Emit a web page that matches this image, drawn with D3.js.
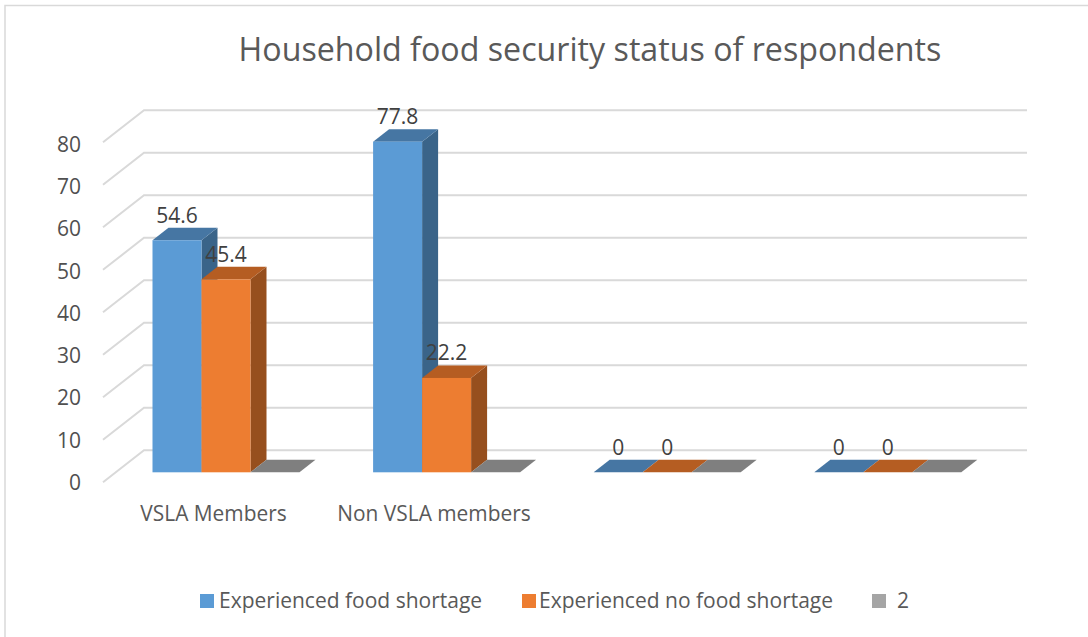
<!DOCTYPE html>
<html><head><meta charset="utf-8">
<script src="https://cdn.jsdelivr.net/npm/d3@7"></script>
<style>html,body{margin:0;padding:0;background:#fff}svg{display:block}text{font-family:"Open Sans",sans-serif}</style>
</head><body><svg id="c" width="1088" height="637"></svg>
<script>
const title = "Household food security status of respondents";
const categories = ["VSLA Members", "Non VSLA members", " ", "  "];
const seriesNames = ["Experienced food shortage", "Experienced no food shortage", "2"];
const shortage = [54.6, 77.8, 0, 0];
const noShortage = [45.4, 22.2, 0, 0];
const third = [null, null, null, null];
const yTicks = [0, 10, 20, 30, 40, 50, 60, 70, 80];
const frontColors = ["#5b9bd5", "#ed7d31", "#a5a5a5"];
const topColors = ["#4676a3", "#b55d22", "#7f7f7f"];
const sideColors = ["#3a6489", "#964f1e", "#6e6e6e"];
const depth = {x: 16, y: 12.5};

const svg = d3.select("#c");
svg.append("path").attr("d","M5,637V5.5H1088").attr("fill","none").attr("stroke","#d9d9d9").attr("stroke-width",1.5);
svg.append("text").attr("x",590).attr("y",60.5).attr("text-anchor","middle").attr("font-size",32.2).attr("fill","#595959").text(title);

const y = d3.scaleLinear().domain([0,80]).range([472.3,132.3]);
const tickY = d3.scaleLinear().domain([0,80]).range([490,151.7]);
const x0 = d3.scaleBand().domain(categories).range([121,1003.4]);
const x1 = d3.scaleBand().domain(d3.range(3)).range([31.5,178.5]);

const wallDx = 41, wallLeft = 103, wallRight = 1027;
const g = svg.append("g");
yTicks.forEach(t=>{
  const yf = y(t)+10, yb = yf-32;
  g.append("path").attr("d",d3.line()([[wallLeft,yf],[wallLeft+wallDx,yb],[wallRight,yb]]))
    .attr("fill","none").attr("stroke","#d9d9d9").attr("stroke-width",2);
  svg.append("text").attr("x",81).attr("y",tickY(t)).attr("text-anchor","end").attr("font-size",21).attr("fill","#505050").text(t);
});

const series = [shortage, noShortage, third];
const bars = svg.append("g");
categories.forEach((c,ci)=>{
  series.forEach((vals,si)=>{
    const v = vals[ci] === null ? 0 : vals[ci];
    const xl = x0(c)+x1(si), xr = xl+x1.bandwidth(), yt = y(v), yb = y(0);
    const dx = depth.x, dy = depth.y;
    if(v>0) bars.append("path").attr("d",`M${xr},${yt}L${xr+dx},${yt-dy}L${xr+dx},${yb-dy}L${xr},${yb}Z`).attr("fill",sideColors[si]);
    bars.append("path").attr("d",`M${xl},${yt}L${xl+dx},${yt-dy}L${xr+dx},${yt-dy}L${xr},${yt}Z`).attr("fill",topColors[si]);
    if(v>0) bars.append("rect").attr("x",xl).attr("y",yt).attr("width",xr-xl).attr("height",yb-yt).attr("fill",frontColors[si]);
  });
});
categories.forEach((c,ci)=>{
  series.forEach((vals,si)=>{
    if(vals[ci]===null) return;
    svg.append("text").attr("x",x0(c)+x1(si)+x1.bandwidth()/2).attr("y",y(vals[ci])-17.5)
      .attr("text-anchor","middle").attr("font-size",21).attr("fill","#404040").text(vals[ci]);
  });
});
categories.slice(0,2).forEach((c,i)=>{
  svg.append("text").attr("x",[213.5,434][i]).attr("y",521).attr("text-anchor","middle").attr("font-size",20.9).attr("fill","#595959").text(c);
});
const lx = [200,522,872], tx=[219,539,897];
seriesNames.forEach((n,i)=>{
  svg.append("rect").attr("x",lx[i]).attr("y",594).attr("width",14).attr("height",14).attr("fill",frontColors[i]);
  svg.append("text").attr("x",tx[i]).attr("y",608).attr("font-size",21).attr("fill","#595959").text(n);
});
</script></body></html>
